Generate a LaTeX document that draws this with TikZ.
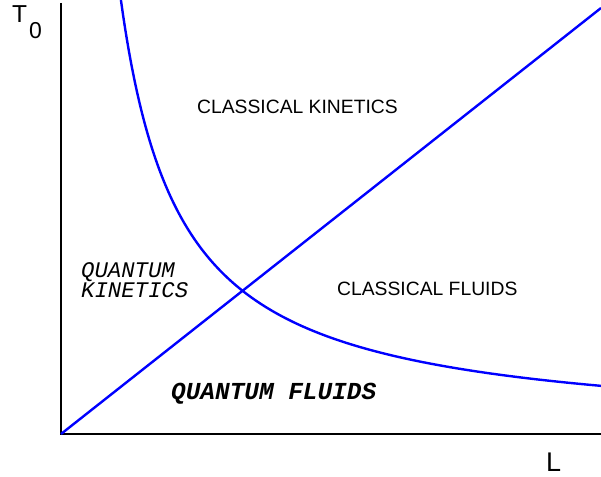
\documentclass[tikz,border=0pt]{standalone}
\usepackage{fontspec}
\setmainfont{Liberation Sans}
\newfontfamily\cour{Liberation Mono}
\begin{document}
\begin{tikzpicture}[x=1pt,y=-1pt,
  axis/.style={draw=black,line width=2pt},
  curve/.style={draw=blue,line width=2.4pt},
  sanslabel/.style={inner sep=0pt,anchor=base west,font=\fontsize{19.3}{22}\selectfont},
  monolabel/.style={inner sep=0pt,anchor=base west,font=\cour\itshape\fontsize{22.3}{20}\selectfont},
  axlabel/.style={inner sep=0pt,anchor=base west}]
\useasboundingbox (0,0) rectangle (601,476);
\coordinate (O) at (61,434);
\coordinate (ytop) at (61,3);
\coordinate (xend) at (601,434);
\coordinate (dend) at (601,8);
\draw[axis] (ytop) -- (O) -- (xend);
\draw[curve] (O) -- (dend);
\begin{scope}
\clip (0,0) rectangle (601,476);
\draw[curve] plot[smooth,domain=58:541,samples=150] ({61+\x},{434-100*(260/\x)});
\end{scope}
\node[axlabel,font=\fontsize{24.5}{24}\selectfont] (T) at (12,23) {T};
\node[axlabel,font=\fontsize{23}{23}\selectfont] (zero) at (29,39) {0};
\node[axlabel,font=\fontsize{27}{27}\selectfont] (L) at (546,471) {L};
\node[sanslabel] (ck) at (197,113) {CLASSICAL KINETICS};
\node[sanslabel] (cf) at (337,295) {CLASSICAL FLUIDS};
\node[monolabel] (qk1) at (81,277) {QUANTUM};
\node[monolabel] (qk2) at (81,297) {KINETICS};
\node[monolabel,font=\cour\bfseries\itshape\fontsize{24.4}{20}\selectfont] (qf) at (171,399) {QUANTUM FLUIDS};
\end{tikzpicture}
\end{document}
